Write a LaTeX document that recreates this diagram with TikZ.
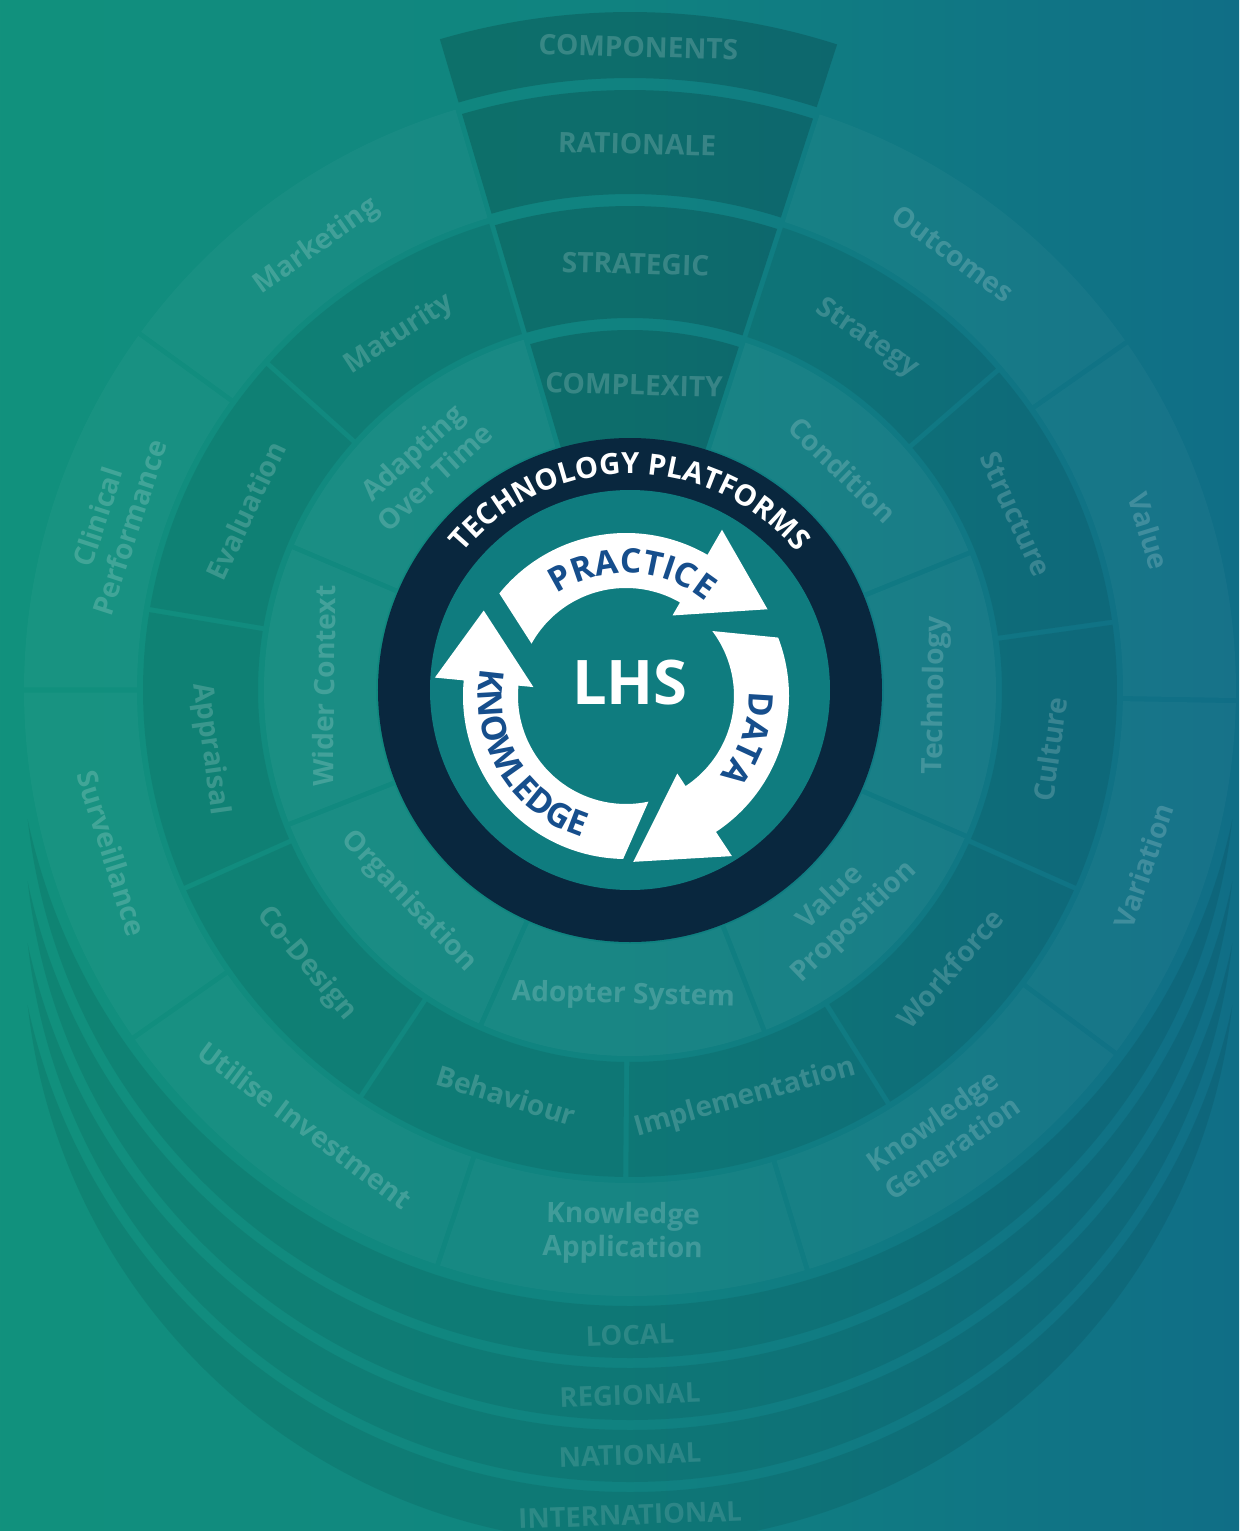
\documentclass[tikz,border=0pt]{standalone}
\usepackage{fontspec}
\setmainfont{Open Sans}
\usetikzlibrary{decorations.text}

\definecolor{bgl}{RGB}{19,161,122}
\definecolor{bgm}{RGB}{16,130,128}
\definecolor{bgr}{RGB}{16,90,141}
\definecolor{navy}{RGB}{9,39,62}
\definecolor{discteal}{RGB}{15,124,127}
\definecolor{cycleblue}{RGB}{22,78,140}
\pgfdeclarehorizontalshading{bgshade}{100bp}{color(0bp)=(bgl); color(50bp)=(bgm); color(100bp)=(bgr)}

\newcommand{\seglabelfont}{\fontsize{8}{9.5}\selectfont\bfseries}
\newcommand{\bandfont}{\fontsize{7.8}{9}\selectfont\bfseries}
\newcommand{\techfont}{\fontsize{8.3}{10}\selectfont\bfseries}
\newcommand{\cyclefont}{\fontsize{9.6}{11}\selectfont\bfseries}

% annular sector: start angle, end angle, inner radius, outer radius
\newcommand{\annseg}[5][]{%
  \pgfmathsetmacro\segAi{#2+145/#4}%
  \pgfmathsetmacro\segBi{#3-145/#4}%
  \pgfmathsetmacro\segAo{#2+145/#5}%
  \pgfmathsetmacro\segBo{#3-145/#5}%
  \fill[#1] (\segAi:#4) arc[start angle=\segAi,end angle=\segBi,radius=#4]
    -- (\segBo:#5) arc[start angle=\segBo,end angle=\segAo,radius=#5] -- cycle;}

% cycle arrow: tail outer, tail inner, head base, tip
\newcommand{\cyclearrow}[4]{%
  \fill[white] (#1:163) arc[start angle=#1,end angle=#3,radius=163]
    -- (#3:192) -- (#4:166) -- (#3:93) -- (#3:108)
    arc[start angle=#3,end angle=#2,radius=108] -- cycle;}

\begin{document}
\begin{tikzpicture}[
    x=0.1mm,y=0.1mm,
    inring/.style={fill=white,fill opacity=0.04},
    midring/.style={fill=black,fill opacity=0.08},
    outring/.style={fill=white,fill opacity=0.03},
    wedgeseg/.style={fill=black,fill opacity=0.16},
    bandseg/.style={fill=black,fill opacity=0.08},
    seglabel/.style={text=white,text opacity=0.18,font=\seglabelfont,align=center},
    bandlabel/.style={text=white,text opacity=0.13,font=\bandfont}
]
    \useasboundingbox (-630,-841) rectangle (609,690);
    \clip (-630,-841) rectangle (609,690);
    \shade[shading=bgshade] (-630,-841) rectangle (609,690);

    \foreach \k/\lvl in {1/LOCAL,2/REGIONAL,3/NATIONAL,4/INTERNATIONAL}{
        \begin{scope}
            \clip (-700,-62*\k-67) rectangle (700,-950);
            \fill[bandseg,even odd rule] (0,-62*\k) circle (606) (0,-62*\k+62) circle (616);
        \end{scope}
        \node[bandlabel,rotate=2] (lvl-\k) at (0,-585-60*\k) {\lvl};
    }

    \foreach \a/\b in {22/72,-23.5/22,-68.5/-23.5,-114/-68.5,-158.5/-114,157/201.5,106.5/157}
        {\annseg[inring]{\a}{\b}{254}{366}}
    \foreach \a/\b in {41/72,8/41,-24/8,-58/-24,-90.5/-58,-123.5/-90.5,-156/-123.5,170.5/204,138/170.5,106.5/138}
        {\annseg[midring]{\a}{\b}{372}{487}}
    \foreach \a/\b in {35/72,-1/35,-36.8/-1,-73/-36.8,-108.5/-73,-145/-108.5,-180/-145,144/180,106.5/144}
        {\annseg[outring]{\a}{\b}{493}{606}}
    \foreach \ri/\ro in {250/360,372/484,496/600,612/678}
        {\annseg[wedgeseg]{72}{106.5}{\ri}{\ro}}

    \foreach \a/\r/\txt [count=\i] in {
        46/306/Condition, -1/306/Technology, -46/306/{Value\\Proposition},
        -91.25/306/Adopter System, -136.25/306/Organisation, 179.25/306/Wider Context,
        132.5/306/{Adapting\\Over Time},
        56/424/Strategy, 24.5/424/Structure, -8/424/Culture, -41/424/Workforce,
        -74.25/424/Implementation, -107/424/Behaviour, -139.75/424/Co-Design,
        188/424/Appraisal, 155/424/Evaluation, 123/424/Maturity,
        53.5/543/Outcomes, 17/543/Value, -18.9/543/Variation,
        -54.9/543/{Knowledge\\Generation}, -90.75/543/{Knowledge\\Application},
        -126.75/543/Utilise Investment, -162.5/543/Surveillance,
        162/543/{Clinical\\Performance}, 125.25/543/Marketing}{
        \pgfmathsetmacro\rot{sin(\a)>0 ? \a-90 : \a+90}
        \node[seglabel,rotate=\rot] (seg-\i) at (\a:\r) {\txt};
    }
    \node[seglabel,rotate=-1.5] (complexity) at (89.25:305) {COMPLEXITY};
    \node[seglabel,rotate=-1.5] (strategic)  at (89.25:426) {STRATEGIC};
    \node[seglabel,rotate=-1.5] (rationale)  at (89.25:546) {RATIONALE};
    \node[seglabel,rotate=-1.5] (components) at (89.25:643) {COMPONENTS};

    \fill[navy] (0,0) circle (252);
    \fill[discteal] (0,0) circle (200);
    \path[decorate,decoration={text along path,text align=center,text color=white,
        text={|\techfont|TECHNOLOGY PLATFORMS}}]
        (165:216) arc[start angle=165,end angle=15,radius=216];

    \begin{scope}[shift={(-4,-6)}]
        \cyclearrow{141}{151}{60}{31.5}
        \cyclearrow{21}{37}{-56.5}{-87.5}
        \cyclearrow{-91}{-78}{-185.5}{-211}
        \path[decorate,decoration={text along path,text align=center,text color=cycleblue,
            text={|\cyclefont|PRACTICE}}]
            (157:123) arc[start angle=157,end angle=17,radius=123];
        \path[decorate,decoration={text along path,text align=center,text color=cycleblue,
            text={|\cyclefont|DATA}}]
            (51:123) arc[start angle=51,end angle=-89,radius=123];
        \path[decorate,decoration={text along path,text align=center,text color=cycleblue,
            text={|\cyclefont|KNOWLEDGE}}]
            (141:148) arc[start angle=141,end angle=281,radius=148];
    \end{scope}

    \node[text=white,font=\fontsize{17.5}{20}\selectfont\bfseries] (lhs) at (0,7) {LHS};
\end{tikzpicture}
\end{document}
